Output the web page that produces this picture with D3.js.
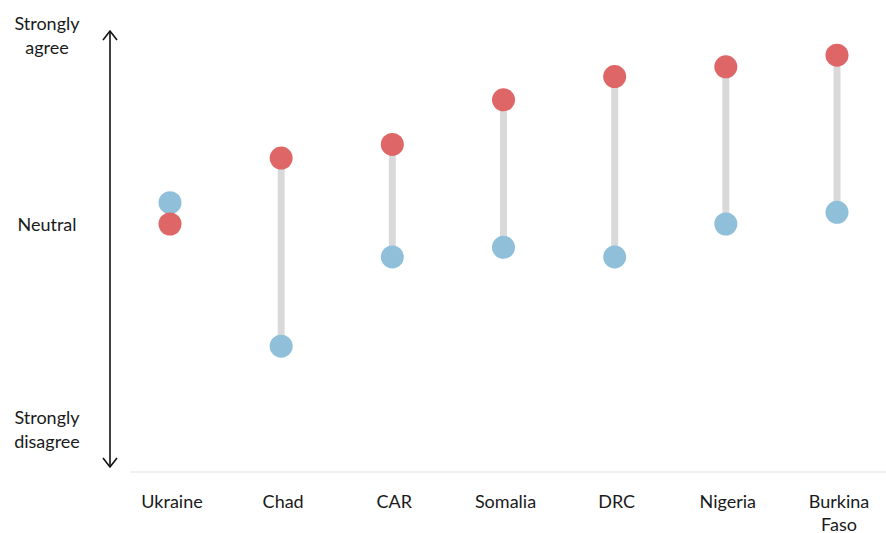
<!DOCTYPE html>
<html>
<head>
<meta charset="utf-8">
<script src="https://cdn.jsdelivr.net/npm/d3@7"></script>
<style>
  body { margin: 0; background: #fff; }
  text { font-family: "Lato", "Noto Sans", sans-serif; fill: #1a1a1a; }
</style>
</head>
<body>
<div id="chart"></div>
<script>
// countries and their scores (-1 = strongly disagree, 0 = neutral, 1 = strongly agree)
var countries = ["Ukraine", "Chad", "CAR", "Somalia", "DRC", "Nigeria", "Burkina Faso"];
var redValues = [0.00, 0.34, 0.41, 0.64, 0.76, 0.81, 0.87];
var blueValues = [0.11, -0.63, -0.17, -0.12, -0.17, 0.00, 0.06];
var scaleLabels = ["Strongly agree", "Neutral", "Strongly disagree"];
var scaleValues = [1, 0, -1];

var width = 886, height = 533;

var svg = d3.select("#chart")
  .append("svg")
    .attr("width", width)
    .attr("height", height);

var x = d3.scalePoint()
  .domain(countries)
  .range([170, 837]);

var y = d3.scaleLinear()
  .domain([-1, 1])
  .range([418, 30]);

var data = countries.map(function(c, i) {
  return {name: c, red: redValues[i], blue: blueValues[i]};
});

// baseline
svg.append("line")
  .attr("x1", 130).attr("x2", width)
  .attr("y1", 472).attr("y2", 472)
  .style("stroke", "#e3e3e3")
  .style("stroke-width", 1.2);

// arrow axis
svg.append("line")
  .attr("x1", 110).attr("x2", 110)
  .attr("y1", 31).attr("y2", 467)
  .style("stroke", "#111")
  .style("stroke-width", 1.6);
svg.append("path")
  .attr("d", "M103,40 L110,31 L117,40 M103,458 L110,467 L117,458")
  .style("fill", "none")
  .style("stroke", "#111")
  .style("stroke-width", 1.6);

// scale labels
var ylab = svg.append("g").selectAll("text")
  .data(scaleLabels)
  .enter().append("text")
  .attr("x", 47)
  .attr("y", function(d, i) { return i == 0 ? 38 : i == 1 ? y(scaleValues[i]) + 2 : y(scaleValues[i]) + 14; })
  .style("font-size", "18px")
  .style("text-anchor", "middle")
  .attr("dominant-baseline", "middle");

ylab.each(function(d) {
  var words = d.split(" ");
  var t = d3.select(this);
  words.forEach(function(w, j) {
    t.append("tspan")
      .attr("x", 47)
      .attr("dy", j == 0 ? (words.length > 1 ? "-0.7em" : "0") : "1.33em")
      .text(w);
  });
});

// connecting bars
svg.append("g").selectAll("line")
  .data(data)
  .enter().append("line")
  .attr("x1", function(d) { return x(d.name); })
  .attr("x2", function(d) { return x(d.name); })
  .attr("y1", function(d) { return y(d.red); })
  .attr("y2", function(d) { return y(d.blue); })
  .style("stroke", "#d9d9d9")
  .style("stroke-width", 7);

// dots
svg.append("g").selectAll("circle")
  .data(data)
  .enter().append("circle")
  .attr("cx", function(d) { return x(d.name); })
  .attr("cy", function(d) { return y(d.blue); })
  .attr("r", 11.5)
  .style("fill", "#8fbfd9");

svg.append("g").selectAll("circle")
  .data(data)
  .enter().append("circle")
  .attr("cx", function(d) { return x(d.name); })
  .attr("cy", function(d) { return y(d.red); })
  .attr("r", 11.5)
  .style("fill", "#df6666");

// country labels
var xlab = svg.append("g").selectAll("text")
  .data(countries)
  .enter().append("text")
  .attr("y", 503)
  .style("font-size", "18px")
  .style("text-anchor", "middle")
  .attr("dominant-baseline", "middle");

xlab.each(function(d) {
  var t = d3.select(this);
  d.split(" ").forEach(function(w, j) {
    t.append("tspan")
      .attr("x", x(d) + 2)
      .attr("dy", j == 0 ? 0 : "1.25em")
      .text(w);
  });
});
</script>
</body>
</html>
